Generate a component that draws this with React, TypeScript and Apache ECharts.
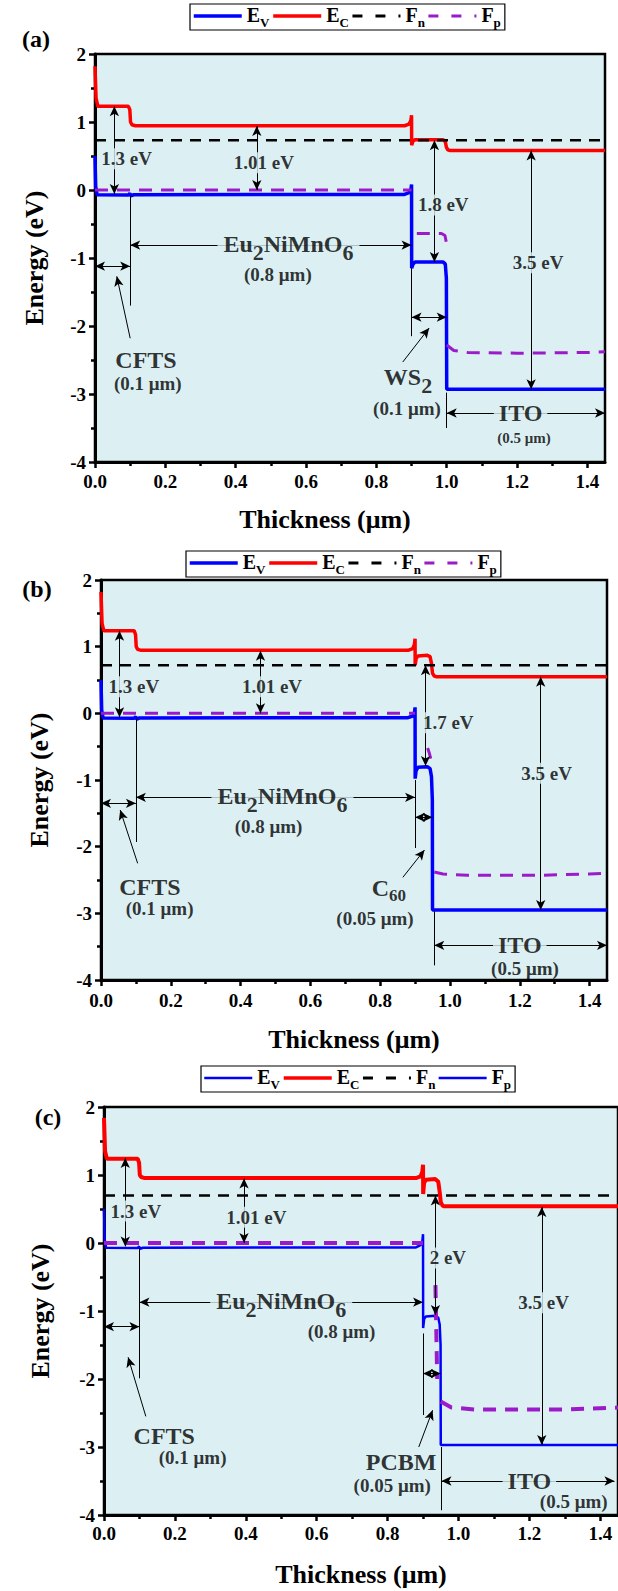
import React, { useEffect, useRef } from 'react';
import * as echarts from 'echarts';

const FONT = "'Liberation Serif', 'Times New Roman', serif";
const BG = '#DCF0F4';
const BLUE = '#0000FF';
const RED = '#FF0000';
const PURPLE = '#9B1BC9';

// ---- axes ----
const xMajorTicks = [0, 0.2, 0.4, 0.6, 0.8, 1.0, 1.2, 1.4];
const xMinorTicks = [0.1, 0.3, 0.5, 0.7, 0.9, 1.1, 1.3];
const xMax = 1.45;
const yMin = -4;
const yMax = 2;
const legendNames = ['E_V', 'E_C', 'F_n', 'F_p'];

// ---- panel (a): CFTS / Eu2NiMnO6 / WS2 / ITO ----
const evA: (number | null)[][] = [[0, 0.5], [0.002, 0.05], [0.006, -0.07], [0.095, -0.075], [0.099, -0.05], [0.102, -0.085], [0.11, -0.07], [0.88, -0.065], [0.893, -0.04], [0.898, 0.0], [0.9, 0.08], [0.9003, -1.15], [0.904, -1.09], [0.91, -1.06], [0.99, -1.06], [0.996, -1.09], [0.999, -1.3], [1.0, -2.93], [1.45, -2.93]];
const ecA: (number | null)[][] = [[0, 1.82], [0.003, 1.35], [0.008, 1.23], [0.095, 1.23], [0.099, 1.18], [0.101, 1.0], [0.105, 0.96], [0.115, 0.945], [0.88, 0.945], [0.893, 0.97], [0.898, 1.02], [0.9, 1.1], [0.9003, 0.66], [0.904, 0.72], [0.91, 0.74], [0.99, 0.74], [0.996, 0.71], [0.999, 0.63], [1.003, 0.59], [1.01, 0.58], [1.45, 0.58]];
const fnA: (number | null)[][] = [[0, 0.73], [1.45, 0.73]];
const fpA: (number | null)[][] = [[0, 0], [0.9, 0], [0.9, null], [0.915, -0.64], [0.985, -0.64], [0.995, -0.67], [1.0, -0.8], [1.0, null], [1.0, -2.28], [1.02, -2.36], [1.06, -2.39], [1.2, -2.4], [1.4, -2.39], [1.45, -2.38]];

// ---- panel (b): CFTS / Eu2NiMnO6 / C60 / ITO ----
const evB: (number | null)[][] = [[0, 0.5], [0.002, 0.05], [0.006, -0.07], [0.095, -0.075], [0.099, -0.05], [0.102, -0.085], [0.11, -0.07], [0.88, -0.065], [0.893, -0.04], [0.898, 0.0], [0.9, 0.09], [0.9003, -0.98], [0.903, -0.86], [0.908, -0.81], [0.935, -0.8], [0.943, -0.83], [0.947, -0.95], [0.9495, -1.3], [0.95, -2.95], [1.45, -2.95]];
const ecB: (number | null)[][] = [[0, 1.82], [0.003, 1.35], [0.008, 1.24], [0.095, 1.24], [0.099, 1.18], [0.101, 1.0], [0.105, 0.96], [0.115, 0.945], [0.88, 0.945], [0.893, 0.97], [0.898, 1.03], [0.9, 1.12], [0.9003, 0.72], [0.903, 0.82], [0.908, 0.86], [0.935, 0.87], [0.943, 0.85], [0.947, 0.75], [0.95, 0.6], [0.955, 0.56], [0.96, 0.55], [1.45, 0.55]];
const fnB: (number | null)[][] = [[0, 0.72], [1.45, 0.72]];
const fpB: (number | null)[][] = [[0, 0], [0.9, 0], [0.9, null], [0.936, -0.52], [0.941, -0.6], [0.945, -0.68], [0.945, null], [0.955, -2.38], [0.98, -2.41], [1.05, -2.43], [1.25, -2.43], [1.4, -2.41], [1.45, -2.4]];

// ---- panel (c): CFTS / Eu2NiMnO6 / PCBM / ITO ----
const evC: (number | null)[][] = [[0, 0.5], [0.002, 0.05], [0.006, -0.07], [0.095, -0.075], [0.099, -0.05], [0.102, -0.085], [0.11, -0.07], [0.88, -0.065], [0.893, -0.03], [0.898, 0.02], [0.9, 0.13], [0.9003, -1.25], [0.903, -1.12], [0.908, -1.08], [0.935, -1.07], [0.943, -1.1], [0.947, -1.2], [0.9495, -1.5], [0.95, -2.97], [1.45, -2.97]];
const ecC: (number | null)[][] = [[0, 1.84], [0.003, 1.35], [0.008, 1.24], [0.095, 1.24], [0.099, 1.18], [0.101, 1.0], [0.105, 0.97], [0.115, 0.955], [0.88, 0.955], [0.893, 0.98], [0.898, 1.05], [0.9, 1.15], [0.9003, 0.72], [0.903, 0.88], [0.908, 0.93], [0.935, 0.94], [0.943, 0.9], [0.947, 0.75], [0.95, 0.6], [0.955, 0.55], [0.96, 0.54], [1.45, 0.54]];
const fnC: (number | null)[][] = [[0, 0.7], [1.45, 0.7]];
const fpC: (number | null)[][] = [[0, 0], [0.9, 0], [0.9, null], [0.935, -0.62], [0.94, -2.0], [0.94, null], [0.95, -2.33], [0.98, -2.42], [1.05, -2.45], [1.3, -2.45], [1.45, -2.42]];

// ---- annotations: [x1, y1, x2, y2, kind] kind 0 = plain, 1 = arrow at end, 2 = both ends ----
const arrowsA = [
  [0.055, 1.23, 0.055, -0.06, 2], [0.46, 0.94, 0.46, 0.0, 2], [0.965, 0.73, 0.965, -1.06, 2], [1.24, 0.58, 1.24, -2.93, 2],
  [0.1, -0.81, 0.9, -0.81, 2], [0.1, -0.08, 0.1, -1.7, 0], [0, -1.12, 0.1, -1.12, 2], [0.1, -2.18, 0.062, -1.27, 1],
  [0.9, -1.15, 0.9, -2.15, 0], [0.9, -1.87, 1.0, -1.87, 2], [0.875, -2.53, 0.95, -2.03, 1],
  [1.0, -2.98, 1.0, -3.5, 0], [1.0, -3.28, 1.45, -3.28, 2],
];
const textsA = [
  [0.09, 0.46, '1.3 eV', 'ev'], [0.48, 0.4, '1.01 eV', 'ev'], [0.99, -0.22, '1.8 eV', 'ev'], [1.26, -1.07, '3.5 eV', 'ev'],
  [0.55, -0.81, 'Eu2NiMnO6', 'eu'], [0.52, -1.24, '(0.8 μm)', 'mu'],
  [0.145, -2.5, 'CFTS', 'big'], [0.15, -2.84, '(0.1 μm)', 'mu'],
  [0.89, -2.77, 'WS2', 'ws'], [0.887, -3.22, '(0.1 μm)', 'mu'],
  [1.21, -3.28, 'ITO', 'bigbg'], [1.22, -3.65, '(0.5 μm)', 'muSmall'],
];
const arrowsB = [
  [0.053, 1.24, 0.053, -0.06, 2], [0.457, 0.94, 0.457, 0.0, 2], [0.93, 0.72, 0.93, -0.79, 2], [1.26, 0.55, 1.26, -2.95, 2],
  [0.1, -1.26, 0.9, -1.26, 2], [0.1, -0.08, 0.1, -1.93, 0], [0, -1.35, 0.1, -1.35, 2], [0.105, -2.25, 0.055, -1.45, 1],
  [0.9, -1.0, 0.9, -2.02, 0], [0.9, -1.56, 0.95, -1.56, 2], [0.865, -2.46, 0.927, -2.05, 1],
  [0.955, -2.97, 0.955, -3.78, 0], [0.955, -3.48, 1.45, -3.48, 2],
];
const textsB = [
  [0.094, 0.4, '1.3 eV', 'ev'], [0.49, 0.4, '1.01 eV', 'ev'], [0.995, -0.14, '1.7 eV', 'ev'], [1.277, -0.9, '3.5 eV', 'ev'],
  [0.52, -1.26, 'Eu2NiMnO6', 'eu'], [0.48, -1.7, '(0.8 μm)', 'mu'],
  [0.14, -2.6, 'CFTS', 'big'], [0.168, -2.92, '(0.1 μm)', 'mu'],
  [0.825, -2.63, 'C60', 'c60'], [0.785, -3.08, '(0.05 μm)', 'mu'],
  [1.2, -3.48, 'ITO', 'bigbg'], [1.215, -3.82, '(0.5 μm)', 'mu'],
];
const arrowsC = [
  [0.06, 1.25, 0.06, -0.05, 2], [0.395, 0.95, 0.395, 0.0, 2], [0.935, 0.7, 0.935, -1.06, 2], [1.235, 0.53, 1.235, -2.97, 2],
  [0.1, -0.87, 0.9, -0.87, 2], [0.1, -0.08, 0.1, -1.99, 0], [0, -1.23, 0.1, -1.23, 2], [0.118, -2.55, 0.068, -1.68, 1],
  [0.9, -1.33, 0.9, -2.53, 0], [0.9, -1.92, 0.95, -1.92, 2], [0.888, -3.0, 0.927, -2.46, 1],
  [0.952, -3.0, 0.952, -3.93, 0], [0.952, -3.5, 1.44, -3.5, 2],
];
const textsC = [
  [0.09, 0.47, '1.3 eV', 'ev'], [0.43, 0.38, '1.01 eV', 'ev'], [0.97, -0.22, '2 eV', 'ev'], [1.24, -0.88, '3.5 eV', 'ev'],
  [0.5, -0.87, 'Eu2NiMnO6', 'eu'], [0.67, -1.3, '(0.8 μm)', 'mu'],
  [0.17, -2.84, 'CFTS', 'big'], [0.25, -3.16, '(0.1 μm)', 'mu'],
  [0.838, -3.22, 'PCBM', 'big'], [0.813, -3.57, '(0.05 μm)', 'mu'],
  [1.2, -3.5, 'ITO', 'bigbg'], [1.325, -3.8, '(0.5 μm)', 'mu'],
];

const SUBRICH = {
  m: { fontSize: 24, fontWeight: 'bold', fontFamily: FONT, lineHeight: 26, verticalAlign: 'top', color: '#000' },
  s: { fontSize: 22, fontWeight: 'bold', fontFamily: FONT, lineHeight: 20, padding: [9, 0, 0, 0], verticalAlign: 'top', color: '#000' },
  t: { fontSize: 17, fontWeight: 'bold', fontFamily: FONT, lineHeight: 16, padding: [11, 0, 0, 0], verticalAlign: 'top', color: '#000' },
};

function richText(t: string): string {
  if (t === 'Eu2NiMnO6') return '{m|Eu}{s|2}{m|NiMnO}{s|6}';
  if (t === 'WS2') return '{m|WS}{s|2}';
  if (t === 'C60') return '{m|C}{t|60}';
  return t;
}

function labelStyle(style: string, t: string): any {
  const base: any = { show: true, position: 'inside', color: '#000', fontFamily: FONT, fontWeight: 'bold', formatter: richText(t) };
  switch (style) {
    case 'ev': return { ...base, fontSize: 19, backgroundColor: BG, padding: [1, 2] };
    case 'eu': return { ...base, rich: SUBRICH, backgroundColor: BG, padding: [0, 6] };
    case 'ws': case 'c60': return { ...base, rich: SUBRICH };
    case 'big': return { ...base, fontSize: 24 };
    case 'bigbg': return { ...base, fontSize: 24, backgroundColor: BG, padding: [0, 5] };
    case 'muSmall': return { ...base, fontSize: 15 };
    default: return { ...base, fontSize: 19 };
  }
}

const panels = [
  { key: 'a', grid: { left: 95, top: 54, width: 510, height: 408 }, legend: { left: 190, top: 4 }, tag: { x: 36, y: 39, text: '(a)' },
    xNameGap: 44, xNamePad: [0, 50, 0, 0], yNameGap: 48, xLabelMargin: 10,
    ev: evA, ec: ecA, fn: fnA, fp: fpA, arrows: arrowsA, texts: textsA, evW: 3.5, ecW: 3.5, fpW: 3, legendEvW: 3.5, fpLegend: null as any },
  { key: 'b', grid: { left: 101, top: 580, width: 506, height: 400 }, legend: { left: 186, top: 551 }, tag: { x: 37, y: 589, text: '(b)' },
    xNameGap: 46, xNamePad: [0, 0, 0, 0], yNameGap: 49, xLabelMargin: 11,
    ev: evB, ec: ecB, fn: fnB, fp: fpB, arrows: arrowsB, texts: textsB, evW: 3.5, ecW: 3.5, fpW: 3, legendEvW: 3.5, fpLegend: null as any },
  { key: 'c', grid: { left: 104, top: 1107, width: 518, height: 408 }, legend: { left: 201, top: 1066 }, tag: { x: 48, y: 1117, text: '(c)' },
    xNameGap: 46, xNamePad: [0, 0, 0, 0], yNameGap: 51, xLabelMargin: 9,
    ev: evC, ec: ecC, fn: fnC, fp: fpC, arrows: arrowsC, texts: textsC, evW: 2.5, ecW: 4, fpW: 4, legendEvW: 2.5,
    fpLegend: { lineStyle: { color: BLUE, type: 'solid', width: 2.5, opacity: 1 }, itemStyle: { color: BLUE, opacity: 0 } } },
];

function legendFormatter(name: string): string {
  const base = name.split(' ')[0];
  const [a, b] = base.split('_');
  return `{m|${a}}{s|${b}}`;
}

function buildOption(): any {
  const grid: any[] = [];
  const xAxis: any[] = [];
  const yAxis: any[] = [];
  const series: any[] = [];
  const legend: any[] = [];
  const graphic: any[] = [];
  const axisText = { color: '#000', fontFamily: FONT, fontWeight: 'bold', fontSize: 19 };
  const nameText = { color: '#000', fontFamily: FONT, fontWeight: 'bold', fontSize: 26 };

  panels.forEach((p, i) => {
    grid.push({ ...p.grid, show: true, backgroundColor: BG, borderColor: '#000', borderWidth: 2.5, containLabel: false });
    xAxis.push({
      gridIndex: i, type: 'value', min: 0, max: xMax, interval: 0.2, position: 'bottom',
      axisLine: { show: true, onZero: false, lineStyle: { color: '#000', width: 3 } },
      axisTick: { show: true, inside: false, length: 6, customValues: xMajorTicks, lineStyle: { color: '#000', width: 2.5 } },
      axisLabel: { ...axisText, margin: p.xLabelMargin, customValues: xMajorTicks, formatter: (v: number) => v.toFixed(1) },
      splitLine: { show: false },
      name: 'Thickness (μm)', nameLocation: 'middle', nameGap: p.xNameGap,
      nameTextStyle: { ...nameText, padding: p.xNamePad },
    });
    xAxis.push({
      gridIndex: i, type: 'value', min: 0, max: xMax, position: 'bottom',
      axisLine: { show: false, onZero: false },
      axisTick: { show: true, inside: false, length: 4, customValues: xMinorTicks, lineStyle: { color: '#000', width: 2.5 } },
      axisLabel: { show: false },
      splitLine: { show: false },
    });
    yAxis.push({
      gridIndex: i, type: 'value', min: yMin, max: yMax, interval: 1,
      axisLine: { show: true, onZero: false, lineStyle: { color: '#000', width: 3 } },
      axisTick: { show: true, inside: false, length: 6, lineStyle: { color: '#000', width: 2.5 } },
      minorTick: { show: true, splitNumber: 2, length: 4, lineStyle: { color: '#000', width: 2.5 } },
      axisLabel: { ...axisText, margin: 9 },
      splitLine: { show: false },
      minorSplitLine: { show: false },
      name: 'Energy (eV)', nameLocation: 'middle', nameRotate: 90, nameGap: p.yNameGap,
      nameTextStyle: nameText,
    });
    const xi = 2 * i;
    const names = legendNames.map((n) => `${n} (${p.key})`);
    const common = { type: 'line', xAxisIndex: xi, yAxisIndex: i, showSymbol: false, symbol: 'none', connectNulls: false, clip: true, silent: true };
    series.push({ ...common, name: names[0], data: p.ev, lineStyle: { color: BLUE, width: p.evW }, itemStyle: { color: BLUE }, z: 3 });
    series.push({ ...common, name: names[1], data: p.ec, lineStyle: { color: RED, width: p.ecW }, itemStyle: { color: RED }, z: 3 });
    series.push({ ...common, name: names[2], data: p.fn, lineStyle: { color: '#000', width: 2.5, type: [11, 8] }, itemStyle: { color: '#000' }, z: 4 });
    series.push({ ...common, name: names[3], data: p.fp, lineStyle: { color: PURPLE, width: p.fpW, type: [13, 9] }, itemStyle: { color: PURPLE }, z: 4 });
    series.push({
      type: 'scatter', name: `notes ${p.key}`, xAxisIndex: xi, yAxisIndex: i, symbol: 'circle', symbolSize: 0, silent: true, z: 10,
      itemStyle: { color: 'rgba(0,0,0,0)' },
      data: p.texts.map(([x, y, t, st]) => ({ value: [x, y], label: labelStyle(st as string, t as string) })),
      markLine: {
        silent: true, animation: false, precision: 4,
        symbolSize: [7, 10],
        label: { show: false },
        lineStyle: { color: '#000', width: 1, type: 'solid' },
        emphasis: { disabled: true },
        data: p.arrows.map(([x1, y1, x2, y2, k]) => [
          { coord: [x1, y1], symbol: k === 2 ? 'arrow' : 'none' },
          { coord: [x2, y2], symbol: k >= 1 ? 'arrow' : 'none' },
        ]),
      },
    });
    const legendData = [
      { name: names[0], lineStyle: { width: p.legendEvW, opacity: 1 } },
      { name: names[1], lineStyle: { width: 3.5, opacity: 1 } },
      { name: names[2], lineStyle: { width: 3, type: [10, 13], opacity: 1 } },
      p.fpLegend ? { name: names[3], ...p.fpLegend } : { name: names[3], lineStyle: { width: 3, type: [10, 13], opacity: 1 } },
    ];
    legend.push({
      left: p.legend.left, top: p.legend.top, orient: 'horizontal',
      itemWidth: 48, itemHeight: 12, itemGap: 2, padding: [1, 4, 1, 2],
      borderColor: '#000', borderWidth: 1.2, backgroundColor: '#fff', selectedMode: false,
      itemStyle: { opacity: 0 },
      lineStyle: { opacity: 1 },
      formatter: legendFormatter,
      textStyle: {
        color: '#000', fontFamily: FONT, fontWeight: 'bold', fontSize: 20,
        rich: {
          m: { fontSize: 20, fontWeight: 'bold', fontFamily: FONT, lineHeight: 22, verticalAlign: 'top', color: '#000' },
          s: { fontSize: 13, fontWeight: 'bold', fontFamily: FONT, lineHeight: 13, padding: [11, 0, 0, 0], verticalAlign: 'top', color: '#000' },
        },
      },
      data: legendData,
    });
    graphic.push({
      type: 'text', x: p.tag.x, y: p.tag.y,
      style: { text: p.tag.text, fill: '#000', font: `bold 24px ${FONT}`, textAlign: 'center', textVerticalAlign: 'middle' },
    });
  });

  return { animation: false, backgroundColor: '#fff', grid, xAxis, yAxis, series, legend, graphic };
}

export default function App() {
  const ref = useRef<HTMLDivElement>(null);
  useEffect(() => {
    const chart = echarts.init(ref.current as HTMLDivElement, null, { renderer: 'svg' });
    chart.setOption(buildOption());
    return () => chart.dispose();
  }, []);
  return <div ref={ref} style={{ position: 'absolute', left: 0, top: 0, width: 618, height: 1591 }} />;
}
